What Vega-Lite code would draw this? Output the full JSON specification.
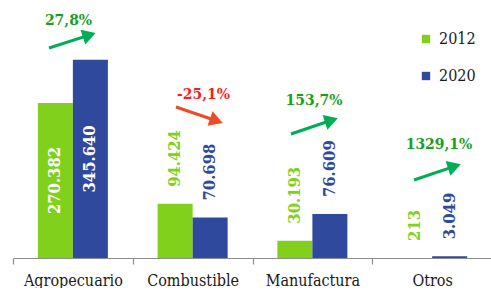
{
  "$schema": "https://vega.github.io/schema/vega-lite/v6.json",
  "width": 479,
  "height": 258,
  "padding": {"left": 12, "top": 0, "right": 0, "bottom": 0},
  "background": "white",
  "config": {
    "view": {"stroke": null},
    "locale": {"number": {"decimal": ",", "thousands": ".", "grouping": [3], "currency": ["", ""]}}
  },
  "datasets": {
    "main": [
      {"cat": "Agropecuario", "year": "2012", "value": 270382},
      {"cat": "Agropecuario", "year": "2020", "value": 345640},
      {"cat": "Combustible", "year": "2012", "value": 94424},
      {"cat": "Combustible", "year": "2020", "value": 70698},
      {"cat": "Manufactura", "year": "2012", "value": 30193},
      {"cat": "Manufactura", "year": "2020", "value": 76609},
      {"cat": "Otros", "year": "2012", "value": 213},
      {"cat": "Otros", "year": "2020", "value": 3049}
    ],
    "annot": [
      {"cat": "Agropecuario", "pct": "27,8%", "trend": "up", "tx": 0.4635, "ty": 415000, "x1": 0.3006, "y1": 366300, "x2": 0.637, "y2": 388800},
      {"cat": "Combustible", "pct": "-25,1%", "trend": "down", "tx": 1.5908, "ty": 286000, "x1": 1.3612, "y1": 263400, "x2": 1.6985, "y2": 239450},
      {"cat": "Manufactura", "pct": "153,7%", "trend": "up", "tx": 2.5136, "ty": 275600, "x1": 2.3215, "y1": 216300, "x2": 2.659, "y2": 240200},
      {"cat": "Otros", "pct": "1329,1%", "trend": "up", "tx": 3.5574, "ty": 198800, "x1": 3.3486, "y1": 136000, "x2": 3.686, "y2": 159900}
    ]
  },
  "layer": [
    {
      "data": {"name": "main"},
      "encoding": {
        "x": {
          "field": "cat", "type": "nominal", "sort": null,
          "scale": {"paddingInner": 0, "paddingOuter": 0},
          "axis": {
            "title": null, "labelAngle": 0, "domainColor": "#8c8c8c", "tickColor": "#8c8c8c",
            "tickBand": "extent", "tickSize": 6, "labelFont": "DejaVu Serif Condensed", "labelFontSize": 16,
            "labelColor": "#1a1a1a", "labelPadding": 8, "domainWidth": 1.2, "tickWidth": 1.2
          }
        },
        "xOffset": {"field": "year", "type": "nominal", "scale": {"paddingOuter": 0.71, "paddingInner": 0}},
        "y": {"field": "value", "type": "quantitative", "scale": {"domain": [0, 450000], "nice": false}, "axis": null}
      },
      "layer": [
        {
          "mark": {"type": "bar"},
          "encoding": {
            "color": {
              "field": "year", "type": "nominal",
              "scale": {"domain": ["2012", "2020"], "range": ["#80d01c", "#2f4a9c"]},
              "legend": {
                "title": null, "orient": "none", "legendX": 405, "legendY": 31, "symbolType": "square",
                "symbolSize": 70, "symbolStrokeWidth": 0, "labelFont": "DejaVu Serif Condensed", "labelFontSize": 16,
                "labelColor": "#1a1a1a", "rowPadding": 21, "labelOffset": 5
              }
            }
          }
        },
        {
          "transform": [{"filter": "datum.value > 150000"}, {"calculate": "datum.value / 2", "as": "mid"}],
          "mark": {"type": "text", "angle": 270, "align": "center", "baseline": "middle", "font": "DejaVu Serif Condensed", "fontWeight": "bold", "fontSize": 16.5, "color": "white"},
          "encoding": {
            "y": {"field": "mid", "type": "quantitative"},
            "text": {"field": "value", "type": "quantitative", "format": ",d"}
          }
        },
        {
          "transform": [{"filter": "datum.value <= 150000"}],
          "mark": {"type": "text", "angle": 270, "align": "left", "baseline": "middle", "dx": 17, "font": "DejaVu Serif Condensed", "fontWeight": "bold", "fontSize": 16.5},
          "encoding": {
            "color": {"field": "year", "type": "nominal"},
            "text": {"field": "value", "type": "quantitative", "format": ",d"}
          }
        }
      ]
    },
    {
      "data": {"name": "annot"},
      "layer": [
        {
          "mark": {"type": "rule", "strokeWidth": 3},
          "encoding": {
            "x": {"field": "x1", "type": "quantitative", "scale": {"domain": [0, 4], "nice": false, "zero": true}, "axis": null},
            "x2": {"field": "x2"},
            "y": {"field": "y1", "type": "quantitative"},
            "y2": {"field": "y2"},
            "color": {"condition": {"test": "datum.trend == 'down'", "value": "#ef4a26"}, "value": "#00ad55"}
          }
        },
        {
          "mark": {"type": "point", "shape": "triangle-up", "filled": true, "size": 240, "opacity": 1},
          "encoding": {
            "x": {"field": "x2", "type": "quantitative"},
            "y": {"field": "y2", "type": "quantitative"},
            "angle": {"condition": {"test": "datum.trend == 'down'", "value": 109}, "value": 72},
            "color": {"condition": {"test": "datum.trend == 'down'", "value": "#ef4a26"}, "value": "#00ad55"}
          }
        },
        {
          "mark": {"type": "text", "font": "DejaVu Serif Condensed", "fontWeight": "bold", "fontSize": 15.5, "align": "center", "baseline": "middle"},
          "encoding": {
            "x": {"field": "tx", "type": "quantitative"},
            "y": {"field": "ty", "type": "quantitative"},
            "text": {"field": "pct"},
            "color": {"condition": {"test": "datum.trend == 'down'", "value": "#ff1a1a"}, "value": "#16a01e"}
          }
        }
      ]
    }
  ],
  "resolve": {"scale": {"x": "independent", "color": "independent"}}
}
